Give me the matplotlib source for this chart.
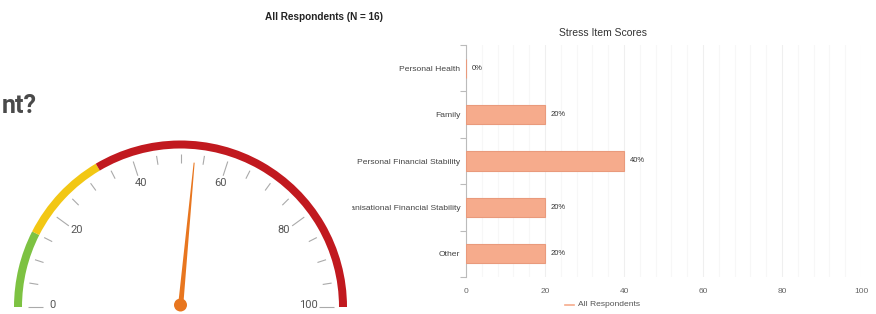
import numpy as np
import matplotlib
matplotlib.use("Agg")
import matplotlib.pyplot as plt
from matplotlib.patches import Wedge, Circle, Polygon
from matplotlib.transforms import Bbox, TransformedBbox

# ── data ──────────────────────────────────────────────────────────────────────
categories = ["Personal Health", "Family", "Personal Financial Stability",
              "Organisational Financial Stability", "Other"]
scores = [0, 20, 40, 20, 20]
xticks = [0, 20, 40, 60, 80, 100]
chart_title = "Stress Item Scores"
group_title = "All Respondents (N = 16)"
series_name = "All Respondents"

gauge_value = 53
band_edges = [0, 15, 33, 100]
band_colors = ["#7dc242", "#f2c714", "#c1191f"]
gauge_labels = [0, 20, 40, 60, 80, 100]
minor_step = 5

W, H, DPI = 876, 314, 100
fig = plt.figure(figsize=(W / DPI, H / DPI), dpi=DPI)
fig.patch.set_facecolor("white")

# ── bar chart ─────────────────────────────────────────────────────────────────
x0, x1, ytop, ybot = 466, 861, 45, 277
ax = fig.add_axes([x0 / W, (H - ybot) / H, (x1 - x0) / W, (ybot - ytop) / H])
y = np.arange(len(categories))
bars = ax.barh(y, scores, height=0.41, color="#f6ab8c", edgecolor="#e99a7c",
               linewidth=0.8, zorder=3)
for bar, s in zip(bars, scores):
    ax.text(s + 1.5, bar.get_y() + bar.get_height() / 2, f"{s}%",
            va="center", ha="left", fontsize=5.5, color="#333333",
            family="Liberation Sans", zorder=4)

ax.set_xlim(0, 100)
ax.set_ylim(len(categories) - 0.5, -0.5)
ax.set_xticks(np.arange(0, 101, 4), minor=True)
ax.set_xticks(xticks)
ax.set_xticklabels([str(t) for t in xticks], fontsize=6, color="#666666",
                   family="Liberation Sans")
ax.grid(axis="x", which="minor", color="#f7f7f7", linewidth=0.8, zorder=0)
ax.grid(axis="x", which="major", color="#efefef", linewidth=0.8, zorder=0)
ax.tick_params(axis="x", which="both", length=0, pad=8)
ax.set_yticks(y)
ax.set_yticklabels(categories, fontsize=6.1, color="#444444",
                   family="Liberation Sans")
ax.set_yticks(np.arange(-0.5, len(categories), 1), minor=True)
ax.tick_params(axis="y", which="major", length=0, pad=4)
ax.tick_params(axis="y", which="minor", length=4, color="#bbbbbb", width=0.8)
for side in ["top", "right", "bottom"]:
    ax.spines[side].set_visible(False)
ax.spines["left"].set_color("#bbbbbb")
ax.spines["left"].set_linewidth(0.8)

# the long label is hidden behind the gauge panel on the left
clip = TransformedBbox(Bbox([[352 / W, 0], [1, 1]]), fig.transFigure)
for lbl in ax.get_yticklabels():
    lbl.set_clip_on(True)
    lbl.set_clip_box(clip)

fig.text(603 / W, 1 - 33 / H, chart_title, ha="center", va="center",
         fontsize=7.5, color="#333333", family="Liberation Sans")
fig.text(265 / W, 1 - 17 / H, group_title, ha="left", va="center",
         fontsize=7.2, color="#222222", family="Liberation Sans",
         fontweight="bold")

# legend
fig.add_artist(plt.Line2D([565 / W, 574 / W], [1 - 305 / H] * 2,
                          color="#f6ab8c", linewidth=1.2))
fig.text(578 / W, 1 - 305 / H, series_name, ha="left", va="center",
         fontsize=6.1, color="#555555", family="Liberation Sans")

# heading fragment
fig.text(2 / W, 1 - 106 / H, "nt?", ha="left", va="center",
         fontsize=18, color="#4a4a4a", family="Roboto", fontweight="bold")

# ── gauge ─────────────────────────────────────────────────────────────────────
ag = fig.add_axes([0, 0, 1, 1], zorder=-1)
ag.set_xlim(0, W)
ag.set_ylim(0, H)
ag.axis("off")
cx, cy = 180.5, H - 307
r_out, arc_w = 166.5, 8


def ang(v):
    return np.deg2rad(180 - 1.8 * v)


for lo, hi, col in zip(band_edges[:-1], band_edges[1:], band_colors):
    ag.add_patch(Wedge((cx, cy), r_out, 180 - 1.8 * hi, 180 - 1.8 * lo,
                       width=arc_w, facecolor=col, edgecolor="none"))

for v in np.arange(0, 101, minor_step):
    major = v in gauge_labels
    r0 = 138 if major else 144
    a = ang(v)
    ag.plot([cx + r0 * np.cos(a), cx + 153 * np.cos(a)],
            [cy + r0 * np.sin(a), cy + 153 * np.sin(a)],
            color="#aaaaaa", linewidth=0.8, solid_capstyle="butt")

for v in gauge_labels:
    a = ang(v)
    rl = 128
    ag.text(cx + rl * np.cos(a), cy + rl * np.sin(a) + 2, str(v),
            ha="center", va="center", fontsize=8, color="#555555",
            family="Roboto")

a = ang(gauge_value)
perp = a + np.pi / 2
tip = (cx + 145 * np.cos(a), cy + 145 * np.sin(a))
needle = Polygon([
    (cx + 2.6 * np.cos(perp), cy + 2.6 * np.sin(perp)),
    (tip[0] + 0.5 * np.cos(perp), tip[1] + 0.5 * np.sin(perp)),
    (tip[0] - 0.5 * np.cos(perp), tip[1] - 0.5 * np.sin(perp)),
    (cx - 2.6 * np.cos(perp), cy - 2.6 * np.sin(perp)),
], closed=True, facecolor="#e8761f", edgecolor="none")
ag.add_patch(needle)
ag.add_patch(Circle((cx, cy + 2), 6.5, facecolor="#e8761f", edgecolor="none"))

fig.savefig("out.png", dpi=DPI)
